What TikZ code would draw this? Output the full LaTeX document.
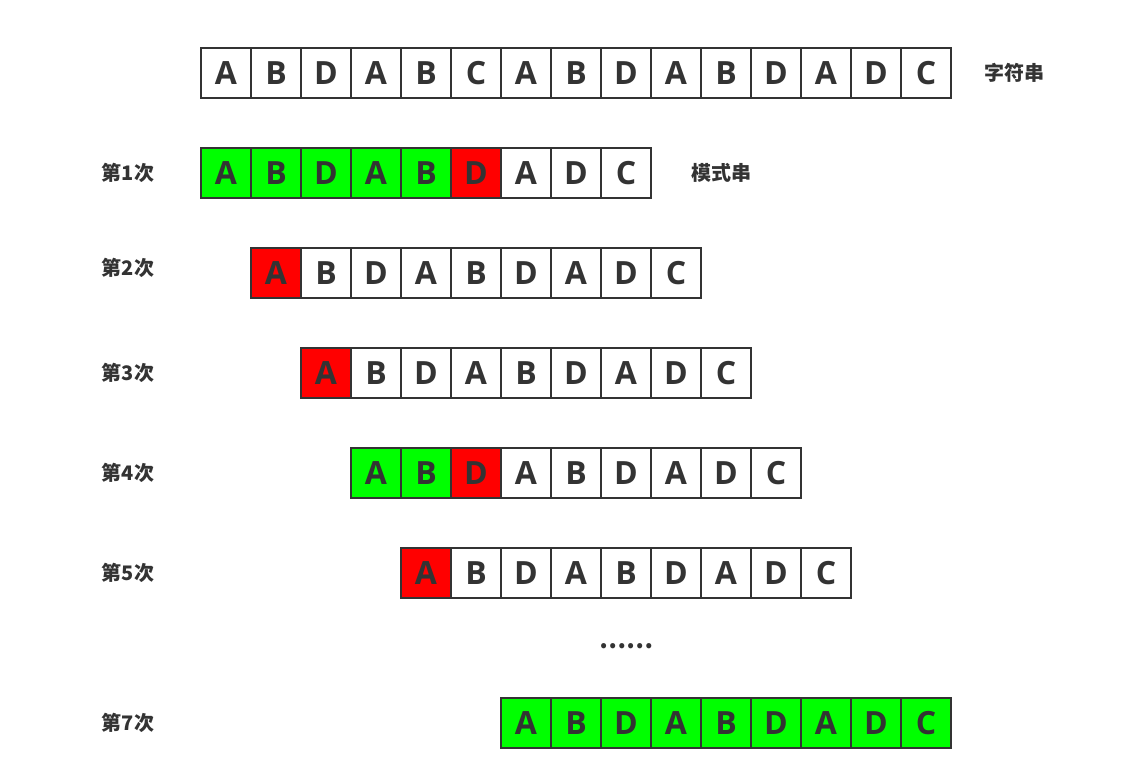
\documentclass[tikz,border=0pt]{standalone}
\usepackage{fontspec}
\setmainfont{Open Sans}
\newfontfamily\cjk{Noto Sans CJK SC}
\usetikzlibrary{positioning}

\definecolor{ink}{HTML}{333333}
\definecolor{okgreen}{HTML}{00FF00}
\definecolor{badred}{HTML}{FF0000}

\newcommand\pattstr{A,B,D,A,B,D,A,D,C}

\begin{document}
\begin{tikzpicture}[
      x=0.75pt, y=-0.75pt,
      node distance=0pt,
      cell/.style={rectangle, draw=ink, line width=1.5pt, outer sep=0pt, inner sep=0pt,
        minimum size=37.5pt, text=ink, font=\fontsize{24}{24}\selectfont\bfseries},
      hit/.style={cell, fill=okgreen},
      miss/.style={cell, fill=badred},
      lbl/.style={text=ink, font=\cjk\fontsize{15}{15}\selectfont\bfseries}
    ]
    \useasboundingbox (0,0) rectangle (1125,780);

    % main string
    \node[cell] (s1) at (226,73) {A};
    \foreach \c [count=\i from 2, evaluate=\i as \j using int(\i-1)] in {B,D,A,B,C,A,B,D,A,B,D,A,D,C}
      \node[cell, right=of s\j] (s\i) {\c};
    \node[lbl, right=21.5pt of s15] (txt) {字符串};

    % pattern tries: row / left x / y / first mismatch
    \foreach \r/\x/\y/\ok in {1/226/173/6, 2/276/273/1, 3/326/373/1, 4/376/473/3, 5/426/573/1, 7/526/723/10} {
      \foreach \c [count=\i] in \pattstr {
        \ifnum\i<\ok \def\st{hit}\else\ifnum\i=\ok \def\st{miss}\else\def\st{cell}\fi\fi
        \ifnum\i=1
          \node[\st] (p\r-1) at (\x,\y) {\c};
        \else
          \pgfmathtruncatemacro\j{\i-1}
          \node[\st, right=of p\r-\j] (p\r-\i) {\c};
        \fi
      }
    }
    \node[lbl, right=27pt of p1-9] (patt) {模式串};

    % row labels
    \node[lbl] (n1) at (128,173) {第1次};
    \node[lbl] (n2) at (128,268) {第2次};
    \node[lbl] (n3) at (128,373) {第3次};
    \node[lbl] (n4) at (128,473) {第4次};
    \node[lbl] (n5) at (128,573) {第5次};
    \node[lbl] (n7) at (128,723) {第7次};

    \node[text=ink, font=\cjk\fontsize{18}{18}\selectfont\bfseries] (more) at (626,646) {……};
  \end{tikzpicture}
\end{document}
